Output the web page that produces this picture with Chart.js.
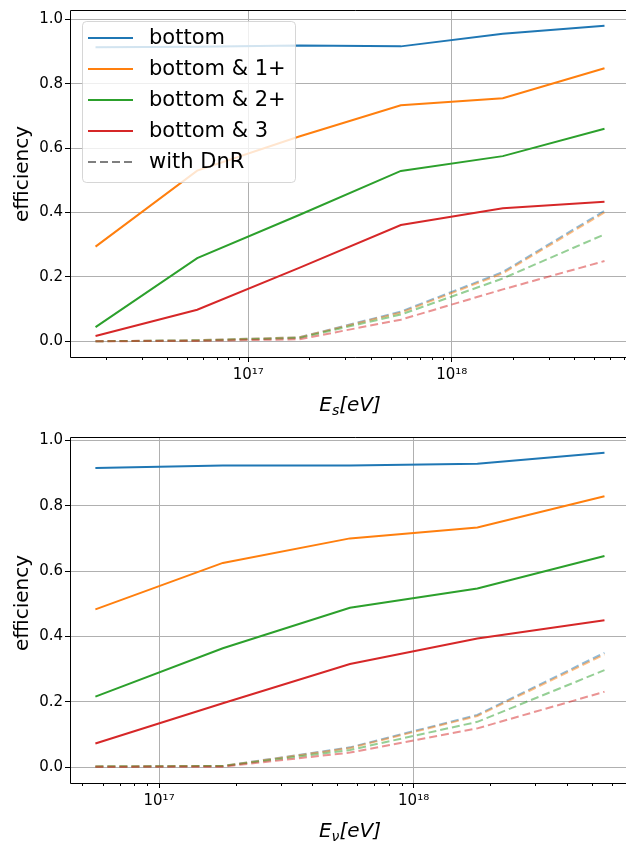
<!DOCTYPE html>
<html lang="en">
<head>
<meta charset="UTF-8">
<title>efficiency</title>
<script src="https://cdn.jsdelivr.net/npm/chart.js@4.4.0/dist/chart.umd.min.js"></script>
<style>
  body { margin: 0; background: white; overflow: hidden; }
  #wrap { width: 626px; height: 842px; overflow: hidden; }
  canvas { display: block; }
</style>
</head>
<body>
<div id="wrap">
  <canvas id="topChart" width="640" height="421"></canvas>
  <canvas id="bottomChart" width="640" height="421"></canvas>
</div>
<script>
// ---- data ----
const seriesLabels = ['bottom', 'bottom & 1+', 'bottom & 2+', 'bottom & 3'];
const dnrLabel = 'with DnR';

// top panel: shower energy
const energyS = [1.78e16, 5.62e16, 1.78e17, 5.62e17, 1.78e18, 5.62e18];
const effS_bottom = [0.913, 0.915, 0.919, 0.916, 0.955, 0.980];
const effS_1plus  = [0.294, 0.530, 0.636, 0.733, 0.755, 0.848];
const effS_2plus  = [0.044, 0.258, 0.392, 0.529, 0.575, 0.660];
const effS_3      = [0.016, 0.098, 0.228, 0.361, 0.413, 0.433];
const dnrS_bottom = [0.000, 0.003, 0.012, 0.092, 0.215, 0.405];
const dnrS_1plus  = [0.000, 0.003, 0.012, 0.089, 0.211, 0.400];
const dnrS_2plus  = [0.000, 0.002, 0.010, 0.083, 0.195, 0.332];
const dnrS_3      = [0.000, 0.001, 0.006, 0.067, 0.161, 0.249];

// bottom panel: neutrino energy
const energyNu = [5.62e16, 1.78e17, 5.62e17, 1.78e18, 5.62e18];
const effNu_bottom = [0.915, 0.923, 0.923, 0.928, 0.962];
const effNu_1plus  = [0.483, 0.625, 0.700, 0.733, 0.829];
const effNu_2plus  = [0.216, 0.364, 0.488, 0.547, 0.646];
const effNu_3      = [0.073, 0.196, 0.316, 0.394, 0.450];
const dnrNu_bottom = [0.003, 0.004, 0.061, 0.160, 0.350];
const dnrNu_1plus  = [0.003, 0.004, 0.059, 0.157, 0.345];
const dnrNu_2plus  = [0.002, 0.004, 0.053, 0.139, 0.297];
const dnrNu_3      = [0.001, 0.002, 0.045, 0.119, 0.231];

const yTicks = [0, 0.2, 0.4, 0.6, 0.8, 1.0];

// ---- styling ----
const colors = ['31,119,180', '255,127,14', '44,160,44', '214,39,40'];
const FONT = 'DejaVu Sans';
const SUP = '⁰¹²³⁴⁵⁶⁷⁸⁹';

function sup(n) {
    return String(n).split('').map(d => SUP[+d]).join('');
}

function logTicks(min, max) {
    const out = [];
    for (let e = Math.floor(Math.log10(min)); e <= Math.ceil(Math.log10(max)); e++) {
        for (let m = 1; m <= 9; m++) {
            const v = m * Math.pow(10, e);
            if (v >= min && v <= max) out.push({value: v, major: m === 1});
        }
    }
    return out;
}

function pts(xs, ys) {
    return xs.map((x, i) => ({x: x, y: ys[i]}));
}

function buildDatasets(xs, solid, dashed) {
    const ds = [];
    solid.forEach((ys, i) => {
        ds.push({label: seriesLabels[i], data: pts(xs, ys),
            borderColor: 'rgb(' + colors[i] + ')', borderWidth: 2});
    });
    dashed.forEach((ys, i) => {
        ds.push({label: seriesLabels[i] + ' (DnR)', data: pts(xs, ys),
            borderColor: 'rgba(' + colors[i] + ',0.5)', borderWidth: 2, borderDash: [8, 4]});
    });
    ds.forEach((d, i) => { d.pointRadius = 0; d.tension = 0; d.fill = false; d.order = -i; });
    return ds;
}

// spines, minor ticks, axis titles and the in-axes legend
function decorations(o) {
    return {
        id: 'decor',
        afterDraw(chart) {
            const ctx = chart.ctx;
            const a = chart.chartArea;
            const xs = chart.scales.x;
            ctx.save();
            // minor x ticks
            ctx.strokeStyle = '#000';
            ctx.lineWidth = 1;
            xs.ticks.forEach(t => {
                if (t.major) return;
                const px = Math.round(xs.getPixelForValue(t.value)) + 0.5;
                ctx.beginPath();
                ctx.moveTo(px, a.bottom);
                ctx.lineTo(px, a.bottom + 3);
                ctx.stroke();
            });
            // spines: left, top, bottom (the right one is cut off in the picture)
            const L0 = Math.round(a.left) + 0.5, T0 = Math.round(a.top) + 0.5;
            const B0 = Math.round(a.bottom) + 0.5, R0 = chart.width;
            ctx.beginPath();
            ctx.moveTo(R0, T0); ctx.lineTo(L0, T0); ctx.lineTo(L0, B0); ctx.lineTo(R0, B0);
            ctx.stroke();

            // x title with subscript
            ctx.fillStyle = '#000';
            ctx.textBaseline = 'alphabetic';
            ctx.textAlign = 'left';
            const big = 'italic 20px "' + FONT + '"';
            const small = 'italic 14px "' + FONT + '"';
            ctx.font = big;
            const wE = ctx.measureText('E').width;
            const wR = ctx.measureText('[eV]').width;
            ctx.font = small;
            const wS = ctx.measureText(o.sub).width;
            let x0 = (a.left + a.right) / 2 - (wE + wS + wR) / 2;
            ctx.font = big;
            ctx.fillText('E', x0, o.xTitleY);
            ctx.font = small;
            ctx.fillText(o.sub, x0 + wE, o.xTitleY + 4);
            ctx.font = big;
            ctx.fillText('[eV]', x0 + wE + wS, o.xTitleY);

            // y title
            ctx.save();
            ctx.translate(o.yTitleX, o.yTitleY);
            ctx.rotate(-Math.PI / 2);
            ctx.textAlign = 'center';
            ctx.font = '20px "' + FONT + '"';
            ctx.fillText('efficiency', 0, 0);
            ctx.restore();

            // legend inside the axes
            if (o.legend) {
                const L = o.legend;
                const rowH = 31;
                const h = rowH * 5 + 6;
                ctx.beginPath();
                ctx.roundRect(L.x + 0.5, L.y + 0.5, L.w, h, 4);
                ctx.fillStyle = 'rgba(255,255,255,0.8)';
                ctx.fill();
                ctx.strokeStyle = 'rgba(204,204,204,0.8)';
                ctx.stroke();
                const items = seriesLabels.map((s, i) => ({text: s, color: 'rgb(' + colors[i] + ')', dash: []}));
                items.push({text: dnrLabel, color: 'rgb(127,127,127)', dash: [8, 4]});
                ctx.font = '21px "' + FONT + '"';
                ctx.textBaseline = 'middle';
                items.forEach((it, i) => {
                    const cy = L.y + 17 + rowH * i;
                    ctx.beginPath();
                    ctx.setLineDash(it.dash);
                    ctx.strokeStyle = it.color;
                    ctx.lineWidth = 2;
                    ctx.moveTo(L.x + 6, cy);
                    ctx.lineTo(L.x + 51, cy);
                    ctx.stroke();
                    ctx.setLineDash([]);
                    ctx.fillStyle = '#000';
                    ctx.fillText(it.text, L.x + 67, cy + 1);
                });
            }
            ctx.restore();
        }
    };
}

function makeChart(id, xs, solid, dashed, o) {
    return new Chart(document.getElementById(id), {
        type: 'line',
        data: {datasets: buildDatasets(xs, solid, dashed)},
        options: {
            responsive: false,
            animation: false,
            layout: {padding: {top: o.padTop, right: 10, left: 0, bottom: 0}},
            plugins: {legend: {display: false}, tooltip: {enabled: false}},
            scales: {
                x: {
                    type: 'logarithmic',
                    min: o.xmin, max: o.xmax,
                    afterBuildTicks: s => { s.ticks = logTicks(o.xmin, o.xmax); },
                    afterFit: s => { s.height = o.xAxisH; s.paddingLeft = 0; s.paddingRight = 0; },
                    border: {display: false},
                    grid: {
                        color: c => (c.tick && c.tick.major) ? '#b0b0b0' : 'rgba(0,0,0,0)',
                        tickColor: c => (c.tick && c.tick.major) ? '#000' : 'rgba(0,0,0,0)',
                        tickLength: 5,
                        lineWidth: 1
                    },
                    ticks: {
                        autoSkip: false, maxRotation: 0, padding: 4, color: '#000',
                        font: {family: FONT, size: 15},
                        callback: v => {
                            const e = Math.log10(v);
                            return Math.abs(e - Math.round(e)) < 1e-6 ? '10' + sup(Math.round(e)) : '';
                        }
                    }
                },
                y: {
                    min: o.ymin, max: o.ymax,
                    afterBuildTicks: s => { s.ticks = yTicks.map(v => ({value: v})); },
                    afterFit: s => { s.width = 70; s.paddingTop = 0; s.paddingBottom = 0; },
                    border: {display: false},
                    grid: {color: '#b0b0b0', tickColor: '#000', tickLength: 5, lineWidth: 1},
                    ticks: {
                        padding: 2, color: '#000',
                        font: {family: FONT, size: 15},
                        callback: v => v.toFixed(1)
                    }
                }
            }
        },
        plugins: [decorations(o)]
    });
}

makeChart('topChart', energyS,
    [effS_bottom, effS_1plus, effS_2plus, effS_3],
    [dnrS_bottom, dnrS_1plus, dnrS_2plus, dnrS_3],
    {padTop: 10, xAxisH: 64, xmin: Math.pow(10, 16.125), xmax: Math.pow(10, 18.875),
     ymin: -0.049, ymax: 1.029, sub: 's', xTitleY: 411, yTitleX: 28, yTitleY: 174,
     legend: {x: 82, y: 21, w: 213}});

makeChart('bottomChart', energyNu,
    [effNu_bottom, effNu_1plus, effNu_2plus, effNu_3],
    [dnrNu_bottom, dnrNu_1plus, dnrNu_2plus, dnrNu_3],
    {padTop: 16, xAxisH: 59, xmin: Math.pow(10, 16.65), xmax: Math.pow(10, 18.85),
     ymin: -0.048, ymax: 1.010, sub: 'ν', xTitleY: 416, yTitleX: 28, yTitleY: 182});
</script>
</body>
</html>
